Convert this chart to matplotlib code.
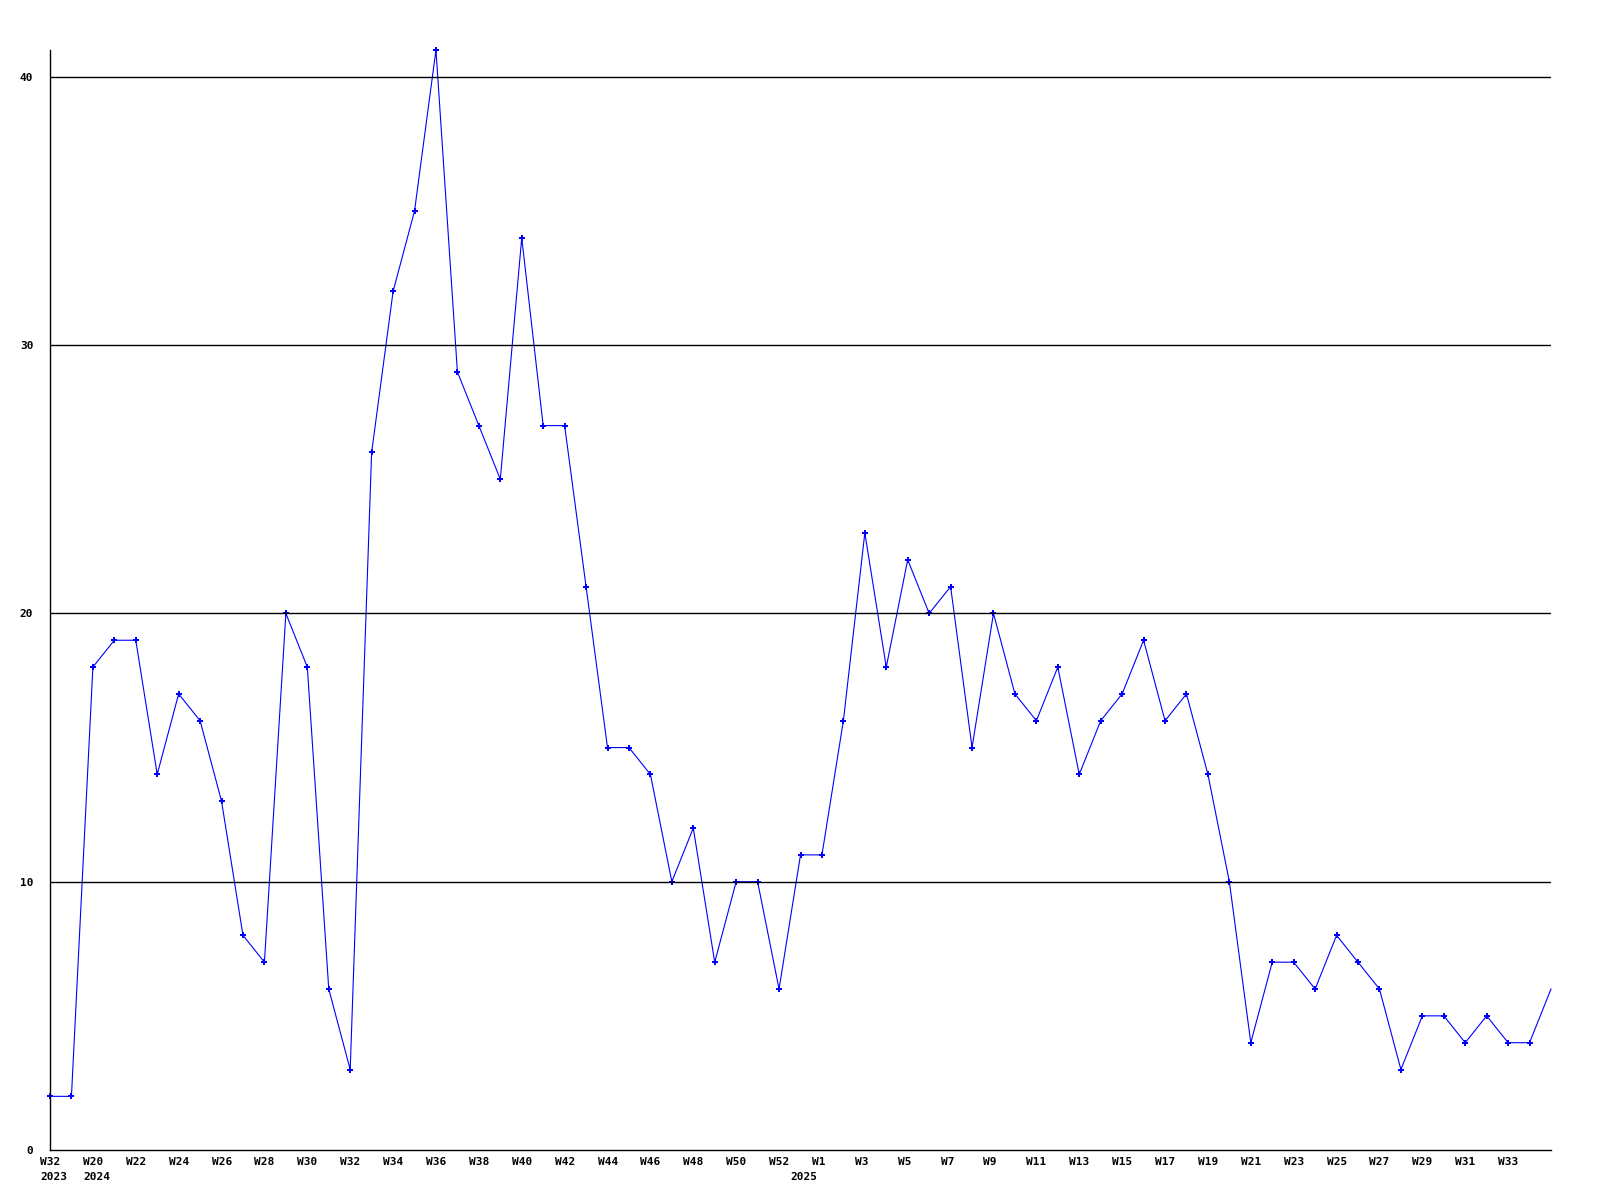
import matplotlib
matplotlib.use("Agg")
import matplotlib.pyplot as plt
from matplotlib.transforms import ScaledTranslation

# weekly counts, one per position on the x axis
values = [2, 2, 18, 19, 19, 14, 17, 16, 13, 8, 7, 20, 18, 6, 3, 26, 32, 35, 41, 29,
          27, 25, 34, 27, 27, 21, 15, 15, 14, 10, 12, 7, 10, 10, 6, 11, 11, 16, 23, 18,
          22, 20, 21, 15, 20, 17, 16, 18, 14, 16, 17, 19, 16, 17, 14, 10, 4, 7, 7, 6,
          8, 7, 6, 3, 5, 5, 4, 5, 4, 4, 6]

tick_pos = list(range(0, 70, 2))
tick_labels = ["W32", "W20", "W22", "W24", "W26", "W28", "W30", "W32", "W34", "W36",
               "W38", "W40", "W42", "W44", "W46", "W48", "W50", "W52", "W1", "W3",
               "W5", "W7", "W9", "W11", "W13", "W15", "W17", "W19", "W21", "W23",
               "W25", "W27", "W29", "W31", "W33"]
year_pos = [0, 2, 35]
year_labels = ["2023", "2024", "2025"]

font = dict(family="DejaVu Sans Mono", weight="bold", size=8)

fig = plt.figure(figsize=(16, 12), dpi=100)
ax = fig.add_axes([50 / 1600, 50 / 1200, 1501 / 1600, 1100 / 1200])

x = list(range(len(values)))
ax.plot(x, values, color="#0000ff", linewidth=0.8, marker="P", markersize=4,
        markeredgewidth=0, markevery=list(range(len(values) - 1)), zorder=2,
        clip_on=False)

# grid is drawn over the data line
for g in [10, 20, 30, 40]:
    ax.axhline(g, color="black", linewidth=1, zorder=3)

ax.set_xlim(0, len(values) - 1)
ax.set_ylim(0, 41)
ax.spines["top"].set_visible(False)
ax.spines["right"].set_visible(False)
for s in ["left", "bottom"]:
    ax.spines[s].set_color("black")
    ax.spines[s].set_linewidth(1)
    ax.spines[s].set_zorder(4)

ax.set_yticks([0, 10, 20, 30, 40])
ax.set_yticklabels(["0", "10", "20", "30", "40"], fontdict=font)
ax.tick_params(axis="y", length=0, pad=12)

ax.set_xticks([])
week_trans = ax.get_xaxis_transform() + ScaledTranslation(-0.1, -0.07, fig.dpi_scale_trans)
for p, t in zip(tick_pos, tick_labels):
    ax.text(p, 0, t, transform=week_trans, ha="left", va="top", fontdict=font)

year_trans = ax.get_xaxis_transform() + ScaledTranslation(-0.1, -0.22, fig.dpi_scale_trans)
for p, t in zip(year_pos, year_labels):
    ax.text(p, 0, t, transform=year_trans, ha="left", va="top", fontdict=font)

fig.savefig("out.png", dpi=100)
plt.close(fig)
